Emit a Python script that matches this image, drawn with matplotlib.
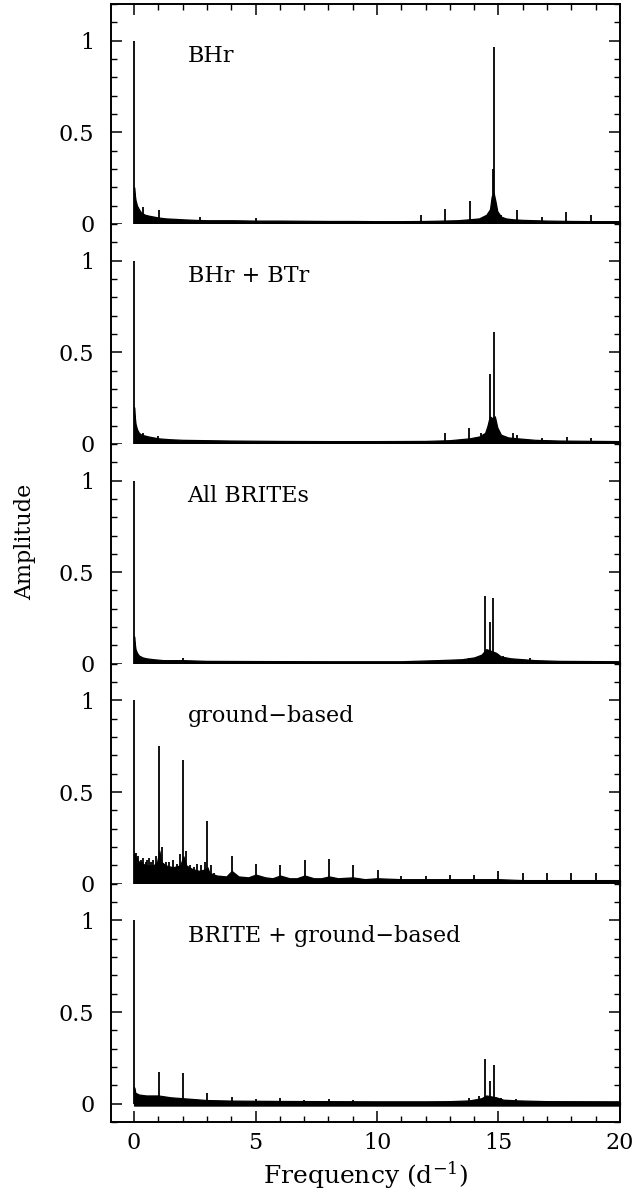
import numpy as np
import matplotlib
matplotlib.use('Agg')
import matplotlib.pyplot as plt
from matplotlib.ticker import MultipleLocator, FixedLocator, FixedFormatter

plt.rcParams['font.family'] = ['DejaVu Serif']
plt.rcParams['mathtext.fontset'] = 'dejavuserif'

###########
# data

panel_names = ['BHr', 'BHr + BTr', 'All BRITEs', 'ground\u2212based', 'BRITE + ground\u2212based']

# BHr
f_env_1 = [0.0, 0.02, 0.06, 0.12, 0.2, 0.3, 0.45, 0.6, 0.8, 1.0, 1.3, 1.6, 2.0, 2.5, 3.0, 4.0, 5.0, 6.0, 7.0, 8.0,
           9.0, 10.0, 11.0, 12.0, 12.7, 13.3, 13.8, 14.2, 14.5, 14.65, 14.72, 14.8, 14.88, 14.95, 15.1, 15.3, 15.6,
           16.0, 16.5, 17.0, 18.0, 19.0, 20.0]
a_env_1 = [0.2, 0.17, 0.13, 0.1, 0.08, 0.06, 0.05, 0.045, 0.04, 0.035, 0.03, 0.028, 0.025, 0.022, 0.02, 0.02, 0.018,
           0.018, 0.017, 0.016, 0.016, 0.015, 0.015, 0.016, 0.018, 0.02, 0.025, 0.03, 0.05, 0.08, 0.15, 0.17, 0.12,
           0.07, 0.04, 0.03, 0.025, 0.022, 0.02, 0.018, 0.016, 0.015, 0.015]
f_pk_1 = [0.0, 0.38, 1.02, 2.7, 5.0, 11.81, 12.81, 13.82, 14.46, 14.78, 14.80, 15.1, 15.78, 16.8, 17.79, 18.79]
a_pk_1 = [1.0, 0.09, 0.076, 0.035, 0.03, 0.05, 0.08, 0.127, 0.045, 0.3, 0.964, 0.05, 0.078, 0.04, 0.065, 0.05]

# BHr + BTr
f_env_2 = [0.0, 0.02, 0.06, 0.12, 0.2, 0.3, 0.45, 0.6, 0.8, 1.0, 1.5, 2.0, 3.0, 4.0, 6.0, 8.0, 10.0, 12.0, 13.0,
           13.8, 14.2, 14.45, 14.55, 14.64, 14.75, 14.85, 14.95, 15.1, 15.4, 15.8, 16.5, 17.5, 20.0]
a_env_2 = [0.2, 0.16, 0.11, 0.08, 0.06, 0.05, 0.045, 0.04, 0.035, 0.03, 0.025, 0.022, 0.02, 0.018, 0.016, 0.015,
           0.015, 0.016, 0.02, 0.03, 0.04, 0.06, 0.1, 0.15, 0.14, 0.15, 0.09, 0.05, 0.035, 0.03, 0.022, 0.018, 0.015]
f_pk_2 = [0.0, 0.35, 1.0, 12.81, 13.80, 14.26, 14.64, 14.82, 15.6, 15.78, 16.8, 17.8, 18.8]
a_pk_2 = [1.0, 0.06, 0.045, 0.06, 0.087, 0.06, 0.38, 0.61, 0.06, 0.05, 0.03, 0.04, 0.03]

# All BRITEs
f_env_3 = [0.0, 0.02, 0.06, 0.12, 0.2, 0.35, 0.5, 0.8, 1.2, 2.0, 3.0, 5.0, 8.0, 11.0, 12.5, 13.5, 14.0, 14.3,
           14.5, 14.7, 14.9, 15.1, 15.5, 16.0, 16.5, 17.5, 20.0]
a_env_3 = [0.15, 0.12, 0.08, 0.06, 0.045, 0.035, 0.03, 0.025, 0.02, 0.02, 0.016, 0.015, 0.014, 0.014, 0.02,
           0.025, 0.035, 0.05, 0.08, 0.07, 0.06, 0.04, 0.03, 0.025, 0.02, 0.016, 0.014]
f_pk_3 = [0.0, 2.0, 13.8, 14.46, 14.63, 14.79, 15.2, 16.3]
a_pk_3 = [1.0, 0.03, 0.03, 0.37, 0.23, 0.36, 0.04, 0.03]

# ground-based
f_env_4 = [0.0, 0.05, 0.2, 0.5, 0.8, 0.95, 1.04, 1.12, 1.3, 1.6, 1.9, 2.03, 2.15, 2.4, 2.7, 2.95, 3.02, 3.1, 3.4,
           3.8, 4.02, 4.3, 4.7, 5.01, 5.4, 5.7, 6.01, 6.4, 6.7, 7.02, 7.4, 7.7, 8.03, 8.4, 9.0, 9.5, 10.0, 11.0,
           12.0, 13.0, 14.0, 15.0, 16.0, 17.0, 18.0, 19.0, 20.0]
a_env_4 = [0.17, 0.15, 0.12, 0.1, 0.1, 0.12, 0.18, 0.12, 0.1, 0.09, 0.1, 0.15, 0.1, 0.08, 0.07, 0.08, 0.09,
           0.06, 0.045, 0.04, 0.07, 0.04, 0.035, 0.05, 0.035, 0.03, 0.045, 0.03, 0.03, 0.045, 0.03, 0.03, 0.04,
           0.03, 0.035, 0.025, 0.03, 0.025, 0.025, 0.025, 0.025, 0.025, 0.02, 0.02, 0.02, 0.02, 0.02]
f_pk_4 = [0.0, 0.08, 0.14, 0.18, 0.28, 0.33, 0.38, 0.5, 0.55, 0.6, 0.7, 0.8, 0.9, 1.04, 1.15, 1.3, 1.45, 1.6,
          1.75, 1.9, 2.03, 2.15, 2.3, 2.45, 2.6, 2.75, 2.9, 3.02, 3.15, 3.3, 4.02, 5.01, 6.01, 7.02, 8.03, 9.01,
          10.02, 11.0, 12.0, 13.0, 14.0, 15.0, 16.0, 17.0, 18.0, 19.0]
a_pk_4 = [1.0, 0.17, 0.14, 0.15, 0.13, 0.12, 0.14, 0.12, 0.13, 0.14, 0.12, 0.13, 0.15, 0.75, 0.2, 0.12, 0.12,
          0.13, 0.11, 0.16, 0.675, 0.18, 0.1, 0.09, 0.11, 0.1, 0.12, 0.34, 0.1, 0.06, 0.15, 0.11, 0.10, 0.13,
          0.135, 0.10, 0.076, 0.04, 0.04, 0.05, 0.05, 0.07, 0.06, 0.06, 0.06, 0.06]

# BRITE + ground-based
f_env_5 = [0.0, 0.02, 0.05, 0.2, 0.5, 1.0, 1.5, 2.0, 2.5, 3.0, 4.0, 5.0, 6.0, 8.0, 10.0, 12.0, 13.0, 13.8, 14.3,
           14.5, 14.7, 14.9, 15.2, 15.8, 17.0, 20.0]
a_env_5 = [0.09, 0.08, 0.06, 0.05, 0.045, 0.045, 0.035, 0.03, 0.025, 0.02, 0.017, 0.016, 0.015, 0.014, 0.013,
           0.013, 0.014, 0.018, 0.03, 0.045, 0.04, 0.035, 0.022, 0.018, 0.014, 0.013]
f_pk_5 = [0.0, 1.03, 2.03, 3.02, 4.02, 5.01, 6.0, 7.0, 8.02, 9.0, 10.0, 13.8, 14.2, 14.43, 14.64, 14.81, 15.1, 15.7]
a_pk_5 = [1.0, 0.175, 0.167, 0.06, 0.037, 0.028, 0.03, 0.018, 0.025, 0.018, 0.012, 0.03, 0.04, 0.245, 0.125,
          0.21, 0.03, 0.025]

f_env = [f_env_1, f_env_2, f_env_3, f_env_4, f_env_5]
a_env = [a_env_1, a_env_2, a_env_3, a_env_4, a_env_5]
f_pk = [f_pk_1, f_pk_2, f_pk_3, f_pk_4, f_pk_5]
a_pk = [a_pk_1, a_pk_2, a_pk_3, a_pk_4, a_pk_5]

ytick_vals = [0, 0.5, 1]
ytick_labels = ['0', '0.5', '1']
xtick_vals = [0, 5, 10, 15, 20]
xtick_labels = ['0', '5', '10', '15', '20']

# data
###########

band_floor = -0.01

fig = plt.figure(figsize=(6.36, 11.98), dpi=100)
gs = fig.add_gridspec(5, 1, left=0.1745, right=0.9748, top=0.9967, bottom=0.0634,
                      hspace=0, height_ratios=[1.2, 1.2, 1.2, 1.2, 1.3])

axes = []
for i in range(5):
    ax = fig.add_subplot(gs[i])
    axes.append(ax)

    ax.fill_between(f_env[i], band_floor, a_env[i], color='k', lw=0.9, clip_on=False, zorder=3)
    ax.vlines(f_pk[i], 0, a_pk[i], color='k', lw=1.3, clip_on=False, zorder=3)

    ax.set_xlim(-0.95, 20)
    if i < 4:
        ax.set_ylim(0, 1.2)
    else:
        ax.set_ylim(-0.1, 1.2)

    ax.text(2.2, 0.915, panel_names[i], fontsize=16, ha='left', va='center')

    ax.yaxis.set_major_locator(FixedLocator(ytick_vals))
    ax.yaxis.set_major_formatter(FixedFormatter(ytick_labels))
    ax.yaxis.set_minor_locator(MultipleLocator(0.1))
    ax.xaxis.set_major_locator(FixedLocator(xtick_vals))
    ax.xaxis.set_minor_locator(MultipleLocator(1))

    ax.tick_params(axis='y', which='both', direction='in', left=True, right=True, labelsize=16, pad=12)
    ax.tick_params(axis='y', which='major', length=8, width=1.1)
    ax.tick_params(axis='y', which='minor', length=4.3, width=1.0)
    ax.tick_params(axis='x', which='both', direction='in', top=(i == 0), bottom=(i == 4),
                   labelbottom=(i == 4), labelsize=16, pad=7)
    ax.tick_params(axis='x', which='major', length=8, width=1.1)
    ax.tick_params(axis='x', which='minor', length=4.3, width=1.0)

    for side in ['left', 'right', 'top', 'bottom']:
        ax.spines[side].set_linewidth(1.4)
    if i > 0:
        ax.spines['top'].set_visible(False)
    if i < 4:
        ax.spines['bottom'].set_visible(False)

axes[4].xaxis.set_major_formatter(FixedFormatter(xtick_labels))
axes[4].set_xlabel('Frequency (d$^{-1}$)', fontsize=18, labelpad=4)

fig.text(0.040, 0.5476, 'Amplitude', rotation=90, fontsize=16, ha='center', va='center')

fig.savefig('out.png', dpi=100)
